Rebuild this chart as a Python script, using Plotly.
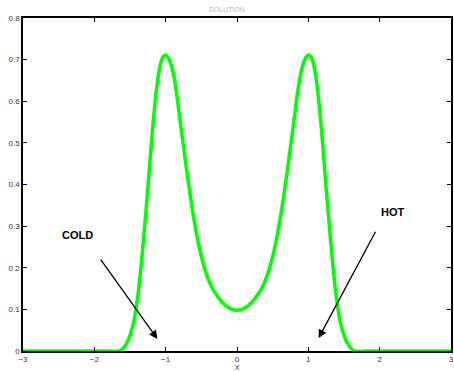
import plotly.graph_objects as go

x_half = [-3.0, -2.5, -2.0, -1.8, -1.65, -1.6, -1.55, -1.5, -1.45, -1.4, -1.35, -1.3, -1.25, -1.2,
          -1.15, -1.1, -1.05, -1.0, -0.95, -0.9, -0.85, -0.8, -0.75, -0.7, -0.65, -0.6,
          -0.55, -0.5, -0.45, -0.4, -0.35, -0.3, -0.25, -0.2, -0.15, -0.1, -0.05, 0.0]
y_half = [0.0, 0.0, 0.0, 0.0, 0.0, 0.006, 0.018, 0.037, 0.068, 0.12, 0.195, 0.29, 0.39, 0.50,
          0.595, 0.665, 0.702, 0.711, 0.700, 0.672, 0.622, 0.556, 0.491, 0.427, 0.367, 0.313,
          0.266, 0.227, 0.196, 0.171, 0.152, 0.138, 0.126, 0.116, 0.108, 0.103, 0.099, 0.098]

x_vals = x_half + [-v for v in reversed(x_half[:-1])]
y_vals = y_half + list(reversed(y_half[:-1]))

labels = ["COLD", "HOT"]
label_x = [-2.23, 2.18]
label_y = [0.278, 0.333]
arrow_tail_x = [-1.925, 1.953]
arrow_tail_y = [0.223, 0.29]
arrow_head_x = [-1.116, 1.144]
arrow_head_y = [0.029, 0.031]

fig = go.Figure()
fig.add_trace(go.Scatter(x=x_vals, y=y_vals, mode="lines",
                         line=dict(color="#00ff00", width=3.5, shape="spline", smoothing=1.0),
                         hoverinfo="skip", showlegend=False))

for t, lx, ly in zip(labels, label_x, label_y):
    fig.add_annotation(x=lx, y=ly, text="<b>%s</b>" % t, showarrow=False,
                       font=dict(family="Liberation Sans, Arial", size=11, color="black"))
for tx, ty, hx, hy in zip(arrow_tail_x, arrow_tail_y, arrow_head_x, arrow_head_y):
    fig.add_annotation(x=hx, y=hy, ax=tx, ay=ty, xref="x", yref="y", axref="x", ayref="y",
                       text="", showarrow=True, arrowhead=2, arrowsize=1.3, arrowwidth=1.3,
                       arrowcolor="black")

# x-axis title placed as annotation just below tick labels
fig.add_annotation(x=0, y=0, xref="x", yref="paper", yshift=-16.5, yanchor="middle",
                   text="X", showarrow=False, borderpad=0,
                   font=dict(family="Liberation Sans, Arial", size=7, color="#333333"))

axis_common = dict(showline=True, linecolor="black", linewidth=1.5, mirror="allticks",
                   ticks="inside", ticklen=4, tickcolor="black", tickwidth=1,
                   showgrid=False, zeroline=False,
                   tickfont=dict(family="Liberation Sans, Arial", size=8, color="#333333"))

fig.update_xaxes(range=[-3, 3], tickmode="array", tickvals=[-3, -2, -1, 0, 1, 2, 3],
                 ticktext=["\u22123", "\u22122", "\u22121", "0", "1", "2", "3"],
                 **axis_common)
fig.update_yaxes(range=[0, 0.8], tickmode="array",
                 tickvals=[0, 0.1, 0.2, 0.3, 0.4, 0.5, 0.6, 0.7, 0.8],
                 ticktext=["0", "0.1", "0.2", "0.3", "0.4", "0.5", "0.6", "0.7", "0.8"],
                 **axis_common)

fig.update_layout(width=454, height=372, margin=dict(l=23, r=1, t=18, b=21),
                  plot_bgcolor="white", paper_bgcolor="white",
                  title=dict(text="SOLUTION", x=0.5, xanchor="center", y=0.975, yanchor="middle",
                             font=dict(family="Liberation Sans, Arial", size=7, color="#bbbbbb")))

fig.write_html("out.html")
